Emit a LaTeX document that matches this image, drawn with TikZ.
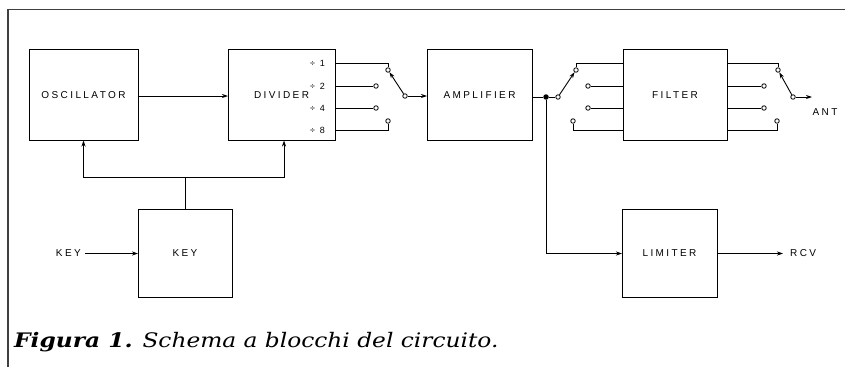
\documentclass[tikz,border=0pt]{standalone}
\usepackage{fontspec}
\usepackage{graphicx}
\usepackage{tikz}
\usetikzlibrary{arrows.meta,positioning,calc}
\newfontfamily\lblfont[LetterSpace=24]{Liberation Sans}
\newfontfamily\capfont{DejaVu Serif}

\begin{document}
\begin{tikzpicture}[
    x=1pt, y=-1pt,
    node distance=91pt,
    blk/.style={rectangle, draw, line width=0.9pt, minimum width=107pt, minimum height=91pt, inner sep=0pt, outer sep=0pt, font=\lblfont\fontsize{10}{11}\selectfont},
    term/.style={circle, draw, fill=white, line width=0.8pt, inner sep=0pt, minimum size=4.5pt},
    dot/.style={circle, fill, inner sep=0pt, minimum size=5.5pt},
    lbl/.style={inner sep=1pt, font=\lblfont\fontsize{10}{11}\selectfont},
    tap/.style={anchor=east, inner sep=0pt, font=\lblfont\fontsize{9}{10}\selectfont},
    wire/.style={line width=0.9pt},
    arrow/.style={wire, -{Stealth[length=6pt, width=4pt]}}
]
\useasboundingbox (0,0) rectangle (845,367);

% frame
\draw[line width=1.2pt, black!75] (8,367) -- (8,9.5) -- (845,9.5);

% rows of the switch contacts
\coordinate (r1) at (0,63);
\coordinate (r4) at (0,130);
\coordinate (fbrow) at (0,177);

% Main chain
\node[blk, minimum width=109pt] (osc) at (83.5,95) {OSCILLATOR};
\node[blk, right=90pt of osc] (div) {DIVIDER};
\node[blk, right=92pt of div, minimum width=105pt] (amp) {AMPLIFIER};
\node[blk, right=of amp, minimum width=104pt] (filter) {FILTER};

% Key and limiter
\node[blk, below=69pt of osc, xshift=101.5pt, minimum width=94pt, minimum height=88pt] (keyblk) {KEY};
\node[blk, below=69pt of filter, xshift=-5.5pt, minimum width=95pt, minimum height=88pt] (lim) {LIMITER};

% divider taps
\node[tap] (t1) at ($(div.east |- r1)+(-10,0)$) {÷ 1};
\node[tap] (t2) at ($(div.east)+(-10,-9)$) {÷ 2};
\node[tap] (t4) at ($(div.east)+(-10,13)$) {÷ 4};
\node[tap] (t8) at ($(div.east |- r4)+(-10,0)$) {÷ 8};

% divider switch
\node[term] (dv1) at (388,70) {};
\node[term] (dv2) at (376,86) {};
\node[term] (dv3) at (376,108) {};
\node[term] (dv4) at (388,121) {};
\node[term] (dps) at (405,96) {};
\draw[wire] (div.east |- r1) -| (dv1);
\draw[wire] (div.east |- dv2) -- (dv2);
\draw[wire] (div.east |- dv3) -- (dv3);
\draw[wire] (div.east |- r4) -| (dv4);
\draw[arrow] (dps) -- (dv1);
\draw[arrow] (dps) -- (amp.west |- dps);

% amplifier switch
\node[dot] (jn) at (546,97) {};
\node[term] (at0) at (558,97) {};
\node[term] (at1) at (576,70) {};
\node[term] (at2) at (588,86) {};
\node[term] (at3) at (588,108) {};
\node[term] (at4) at (573,121) {};
\draw[wire] (amp.east |- jn) -- (jn) -- (at0);
\draw[arrow] (at0) -- (at1);
\draw[wire] (at1) |- (filter.west |- r1);
\draw[wire] (at2) -- (filter.west |- at2);
\draw[wire] (at3) -- (filter.west |- at3);
\draw[wire] (at4) |- (filter.west |- r4);

% filter switch
\node[term] (ft1) at (778,70) {};
\node[term] (ft2) at (764,86) {};
\node[term] (ft3) at (764,108) {};
\node[term] (ft4) at (777,121) {};
\node[term] (fps) at (793,97) {};
\coordinate (antout) at (812,97);
\node[lbl] (ant) at (825,112) {ANT};
\draw[wire] (filter.east |- r1) -| (ft1);
\draw[wire] (filter.east |- ft2) -- (ft2);
\draw[wire] (filter.east |- ft3) -- (ft3);
\draw[wire] (filter.east |- r4) -| (ft4);
\draw[arrow] (fps) -- (ft1);
\draw[arrow] (fps) -- (antout);

% oscillator to divider
\draw[arrow] (osc.east |- dps) -- (div.west |- dps);

% receive path
\node[lbl, right=72pt of lim] (rcv) {RCV};
\draw[arrow] (jn) |- (lim.west);
\draw[arrow] (lim.east) -- ($(rcv.west)+(-6,0)$);

% key path
\node[lbl, left=56pt of keyblk] (keyin) {KEY};
\draw[arrow] ($(keyin.east)+(3,0)$) -- (keyblk.west);
\draw[wire] (keyblk.north) -- (keyblk.north |- fbrow);
\draw[arrow] (keyblk.north |- fbrow) -| (osc.south);
\draw[arrow] (keyblk.north |- fbrow) -| ($(div.south)+(2.5,0)$);

% caption
\node[anchor=base west, inner sep=0pt] (caption) at (14,347)
  {\scalebox{1.165}[1]{\capfont\fontsize{20}{24}\selectfont\itshape\textbf{Figura 1.} Schema a blocchi del circuito.}};
\end{tikzpicture}
\end{document}
